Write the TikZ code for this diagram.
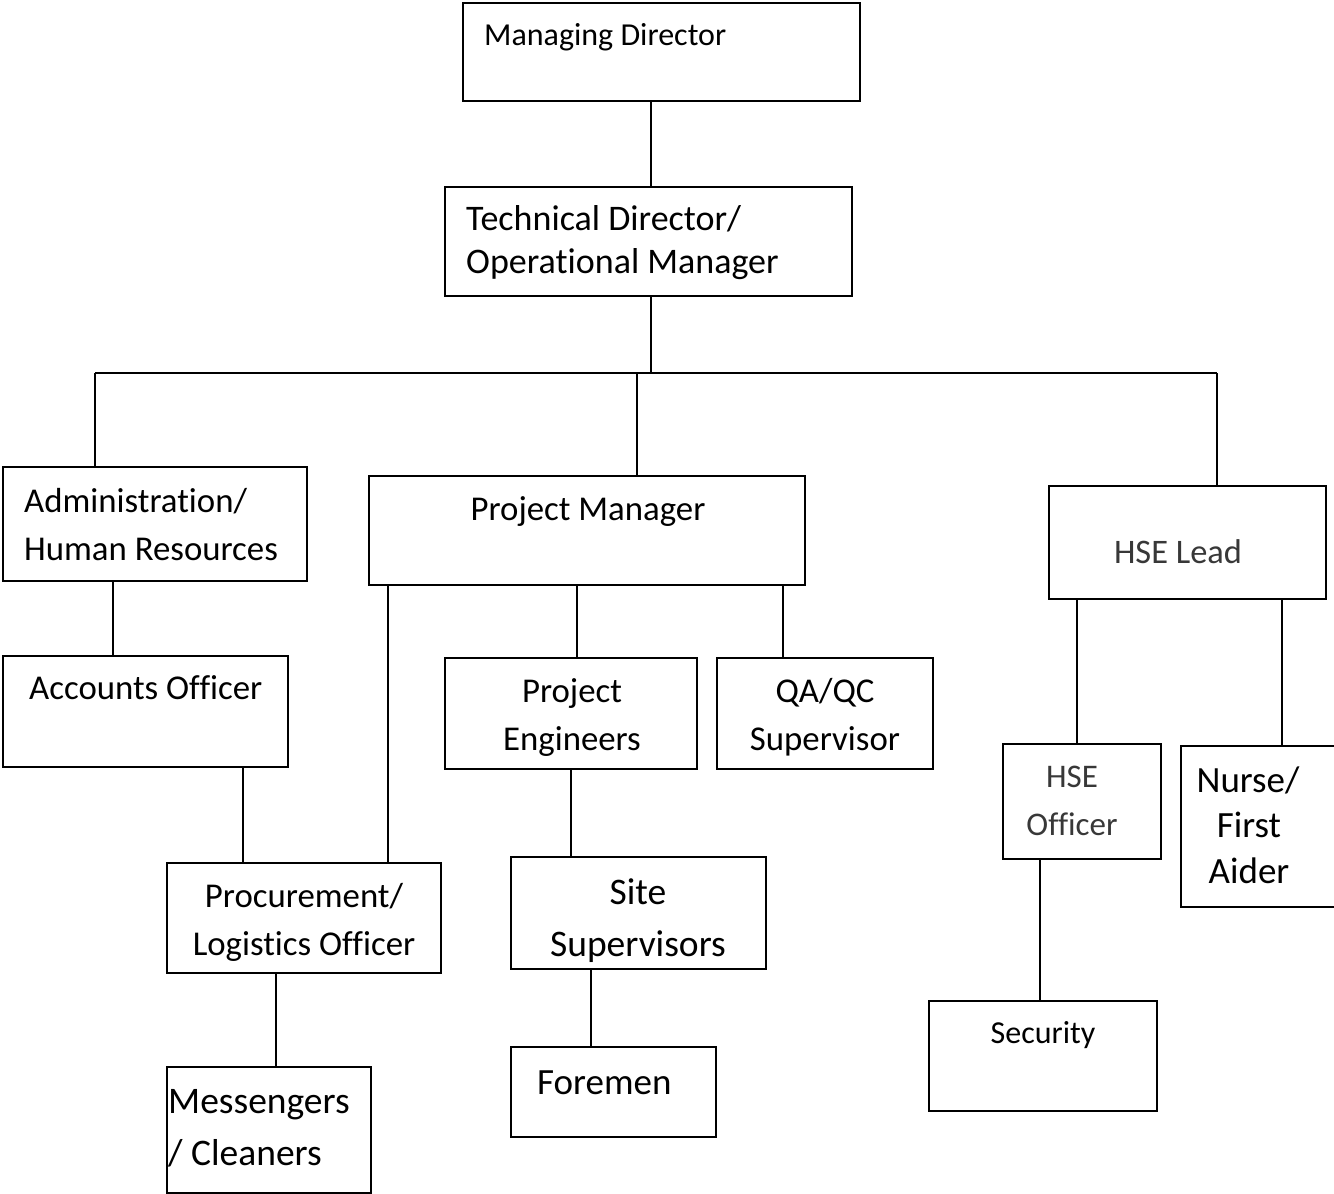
\documentclass[tikz,border=0pt]{standalone}
\usepackage{fontspec}
\setmainfont{Carlito}[Ligatures=NoCommon]
\begin{document}
\begin{tikzpicture}[x=1pt,y=-1pt,
  box/.style={draw, line width=1.6pt, inner sep=0pt, rectangle},
  conn/.style={line width=1.6pt},
  lbl/.style={inner sep=0pt, anchor=base},
  lblw/.style={inner sep=0pt, anchor=base west},
  light/.style={text=black!78}]
\useasboundingbox[fill=white] (0,0) rectangle (1334,1194);
% boxes
\node[box, minimum width=397pt, minimum height=98pt]  (MD)   at (661.5,52)   {};
\node[box, minimum width=407pt, minimum height=109pt] (TD)   at (648.5,241.5) {};
\node[box, minimum width=304pt, minimum height=114pt] (ADM)  at (155,524)    {};
\node[box, minimum width=436pt, minimum height=109pt] (PM)   at (587,530.5)  {};
\node[box, minimum width=277pt, minimum height=113pt] (HSEL) at (1187.5,542.5) {};
\node[box, minimum width=285pt, minimum height=111pt] (ACC)  at (145.5,711.5) {};
\node[box, minimum width=252pt, minimum height=111pt] (PE)   at (571,713.5)  {};
\node[box, minimum width=216pt, minimum height=111pt] (QA)   at (825,713.5)  {};
\node[box, minimum width=158pt, minimum height=115pt] (HSEO) at (1082,801.5) {};
\node[box, minimum width=164pt, minimum height=161pt] (NUR)  at (1263,826.5) {};
\node[box, minimum width=274pt, minimum height=110pt] (PRO)  at (304,918)    {};
\node[box, minimum width=255pt, minimum height=112pt] (SITE) at (638.5,913)  {};
\node[box, minimum width=204pt, minimum height=126pt] (MES)  at (269,1130)   {};
\node[box, minimum width=205pt, minimum height=90pt]  (FOR)  at (613.5,1092) {};
\node[box, minimum width=228pt, minimum height=110pt] (SEC)  at (1043,1056)  {};
% texts
\node[lblw, font=\fontsize{32}{38}\selectfont] (tMD) at (484,45) {Managing Director};
\node[lblw, font=\fontsize{36}{43}\selectfont] (tTD1) at (466,230) {Technical Director/};
\node[lblw, font=\fontsize{36}{43}\selectfont] (tTD2) at (466,273) {Operational Manager};
\node[lblw, font=\fontsize{34.8}{42}\selectfont] (tADM1) at (24,512) {Administration/};
\node[lblw, font=\fontsize{34.8}{42}\selectfont] (tADM2) at (24,560) {Human Resources};
\node[lbl, font=\fontsize{34.8}{42}\selectfont] (tPM) at (588,520) {Project Manager};
\node[lbl, light, font=\fontsize{34.4}{41}\selectfont] (tHSEL) at (1178,563) {HSE Lead};
\node[lblw, font=\fontsize{34.8}{42}\selectfont] (tACC) at (29,699) {Accounts Officer};
\node[lbl, font=\fontsize{34.8}{42}\selectfont] (tPE1) at (572,702) {Project};
\node[lbl, font=\fontsize{34.8}{42}\selectfont] (tPE2) at (572,750) {Engineers};
\node[lbl, font=\fontsize{34.8}{42}\selectfont] (tQA1) at (825,702) {QA/QC};
\node[lbl, font=\fontsize{34.8}{42}\selectfont] (tQA2) at (825,750) {Supervisor};
\node[lbl, light, font=\fontsize{33}{40}\selectfont] (tHO1) at (1072,787) {HSE};
\node[lbl, light, font=\fontsize{33}{40}\selectfont] (tHO2) at (1072,835) {Officer};
\node[lbl, font=\fontsize{37}{44}\selectfont] (tN1) at (1248,792) {Nurse/};
\node[lbl, font=\fontsize{37}{44}\selectfont] (tN2) at (1249,837) {First};
\node[lbl, font=\fontsize{37}{44}\selectfont] (tN3) at (1249,883) {Aider};
\node[lbl, font=\fontsize{34.8}{42}\selectfont] (tPR1) at (304,907) {Procurement/};
\node[lbl, font=\fontsize{34.8}{42}\selectfont] (tPR2) at (304,955) {Logistics Officer};
\node[lbl, font=\fontsize{37.5}{45}\selectfont] (tS1) at (638,904) {Site};
\node[lbl, font=\fontsize{37.5}{45}\selectfont] (tS2) at (638,956) {Supervisors};
\node[lblw, font=\fontsize{37.5}{45}\selectfont] (tM1) at (168,1113) {Messengers};
\node[lblw, font=\fontsize{37.5}{45}\selectfont] (tM2) at (168,1165) {/ Cleaners};
\node[lblw, font=\fontsize{37}{44}\selectfont] (tF) at (537,1094) {Foremen};
\node[lbl, font=\fontsize{32}{38}\selectfont] (tSEC) at (1043,1043) {Security};
% connector coordinates
\coordinate (busL) at (95,373);
\coordinate (busR) at (1217,373);
\coordinate (busM) at (651,373);
\coordinate (busP) at (637,373);
\coordinate (xMD) at (651,0);
\coordinate (xAA) at (113,0);
\coordinate (xAP) at (243,0);
\coordinate (xPP) at (388,0);
\coordinate (xPE) at (577,0);
\coordinate (xQA) at (783,0);
\coordinate (xPS) at (571,0);
\coordinate (xSF) at (591,0);
\coordinate (xPM) at (276,0);
\coordinate (xHO) at (1077,0);
\coordinate (xHN) at (1282,0);
\coordinate (xHS) at (1040,0);
% connectors
\draw[conn] (MD.south -| xMD) -- (TD.north -| xMD);
\draw[conn] (TD.south -| busM) -- (busM);
\draw[conn] (busL) -- (busR);
\draw[conn] (busL) -- (ADM.north -| busL);
\draw[conn] (busP) -- (PM.north -| busP);
\draw[conn] (busR) -- (HSEL.north -| busR);
\draw[conn] (ADM.south -| xAA) -- (ACC.north -| xAA);
\draw[conn] (ACC.south -| xAP) -- (PRO.north -| xAP);
\draw[conn] (PM.south -| xPP) -- (PRO.north -| xPP);
\draw[conn] (PM.south -| xPE) -- (PE.north -| xPE);
\draw[conn] (PM.south -| xQA) -- (QA.north -| xQA);
\draw[conn] (PE.south -| xPS) -- (SITE.north -| xPS);
\draw[conn] (SITE.south -| xSF) -- (FOR.north -| xSF);
\draw[conn] (PRO.south -| xPM) -- (MES.north -| xPM);
\draw[conn] (HSEL.south -| xHO) -- (HSEO.north -| xHO);
\draw[conn] (HSEL.south -| xHN) -- (NUR.north -| xHN);
\draw[conn] (HSEO.south -| xHS) -- (SEC.north -| xHS);
\end{tikzpicture}
\end{document}
